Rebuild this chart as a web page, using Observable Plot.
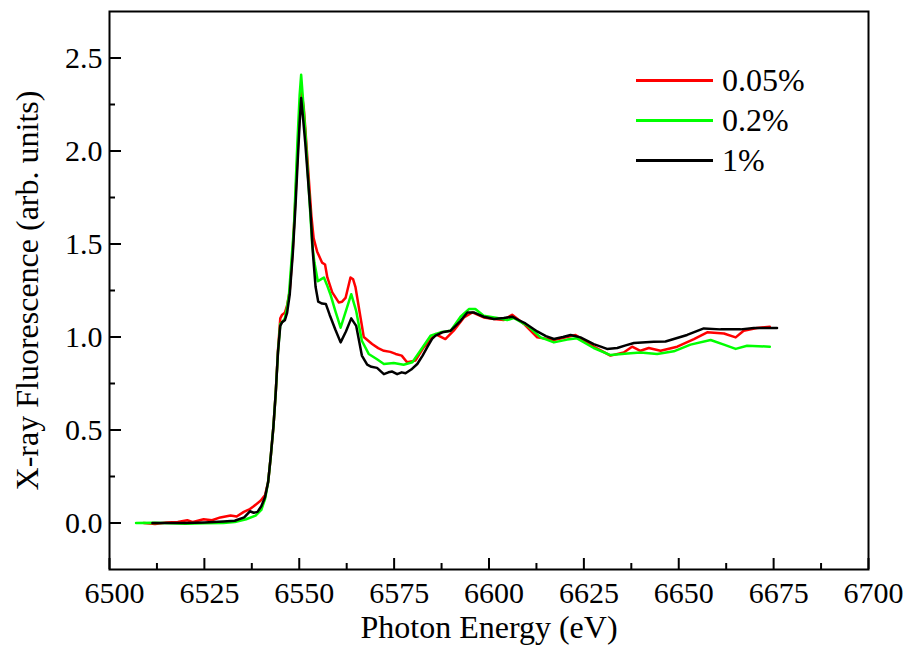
<!DOCTYPE html>
<html>
<head>
<meta charset="utf-8">
<script src="https://cdn.jsdelivr.net/npm/d3@7"></script>
<script src="https://cdn.jsdelivr.net/npm/@observablehq/plot@0.6"></script>
<style>
  html, body { margin: 0; padding: 0; background: #fff; }
</style>
</head>
<body style="margin:0;padding:0;background:#fff">
<div id="wrap" style="position:relative;width:911px;height:650px;overflow:hidden"></div>
<script>
// ---- data ----
const seriesNames = ["0.05%", "0.2%", "1%"];

const redE = [6509, 6512, 6515, 6518, 6520.5, 6522, 6524.8, 6527, 6529.2, 6531.9, 6533.5, 6535.4, 6537, 6538, 6539.8, 6541, 6541.8, 6542.5, 6543.2, 6543.8, 6544.4, 6545, 6545.5, 6546.2, 6546.8, 6547.5, 6548.3, 6549, 6549.6, 6550.1, 6550.5, 6551.2, 6551.6, 6552.5, 6553.2, 6553.8, 6554.7, 6556, 6556.8, 6557.4, 6558.7, 6560.4, 6561.3, 6562.2, 6563.5, 6564.2, 6564.8, 6567, 6569.2, 6570.8, 6572.3, 6574, 6575.4, 6577, 6578.4, 6580.6, 6582.8, 6585.9, 6588.5, 6590.7, 6593.4, 6595.6, 6598.6, 6601.3, 6603.9, 6606.1, 6609.2, 6612.7, 6617.1, 6622.8, 6627.6, 6632, 6635.5, 6637.7, 6639.9, 6642.1, 6645.2, 6649.6, 6654, 6657.5, 6661.9, 6665, 6667.1, 6670.6, 6674];
const redI = [0.0, -0.005, 0.003, 0.005, 0.015, 0.005, 0.02, 0.015, 0.03, 0.04, 0.035, 0.06, 0.075, 0.09, 0.12, 0.15, 0.22, 0.36, 0.52, 0.7, 0.93, 1.1, 1.12, 1.13, 1.17, 1.25, 1.47, 1.75, 2.0, 2.2, 2.33, 2.23, 2.12, 1.856, 1.65, 1.53, 1.46, 1.40, 1.39, 1.32, 1.24, 1.186, 1.19, 1.21, 1.32, 1.31, 1.27, 1.0, 0.962, 0.94, 0.926, 0.92, 0.909, 0.9, 0.864, 0.873, 0.944, 1.016, 0.989, 1.034, 1.105, 1.132, 1.105, 1.097, 1.091, 1.12, 1.07, 0.998, 0.984, 1.011, 0.948, 0.90, 0.917, 0.948, 0.926, 0.941, 0.926, 0.948, 0.989, 1.025, 1.019, 0.998, 1.034, 1.048, 1.055];

const greenE = [6507, 6512, 6516, 6520, 6525, 6530, 6533, 6536, 6538.5, 6540, 6541, 6541.8, 6542.5, 6543.2, 6543.8, 6544.4, 6545, 6545.5, 6546.2, 6546.8, 6547.3, 6548.6, 6549.5, 6550.1, 6550.5, 6550.9, 6551.6, 6552.5, 6553.4, 6554, 6554.9, 6555.7, 6556.5, 6557.3, 6558.2, 6559.5, 6560.9, 6562.3, 6563.7, 6565, 6566.5, 6568.3, 6570.5, 6572.3, 6574.9, 6577.5, 6579.8, 6581.9, 6584.6, 6587.2, 6589.9, 6592.5, 6594.7, 6596.4, 6598.6, 6602.2, 6604.8, 6606.5, 6610.1, 6613.6, 6617.1, 6620.6, 6623.2, 6627.6, 6632, 6637.3, 6639.9, 6644.3, 6648.7, 6653.1, 6658.4, 6661.9, 6665, 6668, 6674];
const greenI = [0.0, 0.002, -0.002, -0.004, -0.002, 0.0, 0.005, 0.02, 0.04, 0.07, 0.13, 0.22, 0.36, 0.52, 0.7, 0.92, 1.07, 1.08, 1.1, 1.16, 1.23, 1.59, 2.04, 2.3, 2.41, 2.3, 2.1, 1.8, 1.50, 1.40, 1.30, 1.31, 1.32, 1.28, 1.23, 1.14, 1.05, 1.14, 1.23, 1.14, 0.98, 0.909, 0.88, 0.855, 0.86, 0.851, 0.864, 0.926, 1.007, 1.025, 1.034, 1.109, 1.15, 1.15, 1.114, 1.102, 1.091, 1.102, 1.061, 0.998, 0.971, 0.986, 0.993, 0.941, 0.903, 0.912, 0.917, 0.909, 0.923, 0.959, 0.984, 0.959, 0.936, 0.953, 0.948];

const blackE = [6511.3, 6515, 6520, 6525, 6530, 6533, 6535.5, 6537, 6538, 6539, 6540, 6541, 6541.8, 6542.5, 6543.2, 6543.8, 6544.4, 6545, 6545.5, 6546.2, 6546.8, 6547.5, 6548.3, 6549, 6549.6, 6550.1, 6550.5, 6550.9, 6551.6, 6552.3, 6553, 6553.6, 6554.3, 6555, 6556, 6557, 6558, 6559.5, 6560.9, 6562.3, 6563.7, 6565, 6566.5, 6567.9, 6569, 6570.5, 6571.5, 6572.3, 6573.5, 6574.5, 6575.8, 6577, 6578, 6579.5, 6581.1, 6582.5, 6583.7, 6585, 6585.9, 6587.7, 6589.9, 6591.2, 6592.5, 6594.3, 6596, 6597.3, 6598.6, 6601.3, 6603.9, 6606.1, 6607.9, 6609.6, 6612.7, 6615, 6617.1, 6619.5, 6621.5, 6624.1, 6627.6, 6631.1, 6633.8, 6636, 6638.2, 6643.4, 6646.5, 6648.7, 6652.2, 6656.6, 6661, 6666.3, 6669.8, 6675.9];
const blackI = [0.0, 0.0, 0.0, 0.003, 0.008, 0.012, 0.03, 0.063, 0.055, 0.06, 0.09, 0.14, 0.22, 0.36, 0.52, 0.7, 0.92, 1.06, 1.08, 1.09, 1.13, 1.23, 1.45, 1.7, 1.95, 2.15, 2.285, 2.2, 2.04, 1.85, 1.66, 1.45, 1.27, 1.19, 1.18, 1.178, 1.12, 1.04, 0.971, 1.03, 1.10, 1.06, 0.90, 0.851, 0.84, 0.834, 0.815, 0.80, 0.81, 0.814, 0.80, 0.81, 0.805, 0.825, 0.855, 0.9, 0.944, 0.99, 1.007, 1.025, 1.034, 1.06, 1.087, 1.132, 1.132, 1.12, 1.109, 1.097, 1.102, 1.109, 1.09, 1.073, 1.03, 1.005, 0.989, 1.0, 1.011, 0.998, 0.962, 0.936, 0.941, 0.955, 0.968, 0.975, 0.976, 0.989, 1.011, 1.046, 1.041, 1.041, 1.048, 1.048];

const xMajorTicks = [6500, 6525, 6550, 6575, 6600, 6625, 6650, 6675, 6700];
const xMinorTicks = [6512.5, 6537.5, 6562.5, 6587.5, 6612.5, 6637.5, 6662.5, 6687.5];
const yMajorTicks = [0.0, 0.5, 1.0, 1.5, 2.0, 2.5];
const yMinorTicks = [0.25, 0.75, 1.25, 1.75, 2.25];
const xTitle = "Photon Energy (eV)";
const yTitle = "X-ray Fluorescence (arb. units)";

// ---- build table ----
const seriesColors = ["#ff0000", "#00ff00", "#000000"];
const energies = [redE, greenE, blackE];
const intensities = [redI, greenI, blackI];
const rows = [];
seriesNames.forEach((name, k) => {
  energies[k].forEach((e, i) => rows.push({series: name, E: e, I: intensities[k][i]}));
});

const W = 911, H = 650, mL = 109, mR = 43, mT = 11, mB = 81;
const innerW = W - mL - mR, innerH = H - mT - mB;
const font = "'Liberation Serif'";

const chart = Plot.plot({
  width: W, height: H,
  marginLeft: mL, marginRight: mR, marginTop: mT, marginBottom: mB,
  style: {fontFamily: font, fontSize: "30px", color: "#000", background: "#fff", overflow: "visible"},
  x: {domain: [6500, 6700]},
  y: {domain: [-0.25, 2.75]},
  color: {domain: seriesNames, range: seriesColors},
  marks: [
    Plot.line(rows, {x: "E", y: "I", z: "series", stroke: "series", strokeWidth: 2.5, strokeLinejoin: "round"}),
    Plot.tickX(xMajorTicks, {x: d => d, stroke: "#000", strokeWidth: 2, insetTop: innerH - 11}),
    Plot.tickX(xMinorTicks, {x: d => d, stroke: "#000", strokeWidth: 2, insetTop: innerH - 6}),
    Plot.tickY(yMajorTicks, {y: d => d, stroke: "#000", strokeWidth: 2, insetRight: innerW - 12}),
    Plot.tickY(yMinorTicks, {y: d => d, stroke: "#000", strokeWidth: 2, insetRight: innerW - 6}),
    Plot.frame({stroke: "#000", strokeWidth: 2}),
    Plot.axisX({ticks: xMajorTicks, tickSize: 0, tickPadding: 12, dx: 5, tickFormat: d3.format("d"), label: null, fontSize: 30}),
    Plot.axisY({ticks: yMajorTicks, tickSize: 0, tickPadding: 7, tickFormat: d3.format(".1f"), label: null, fontSize: 30}),
    Plot.text([xTitle], {text: d => d, frameAnchor: "bottom", dy: 58, lineAnchor: "middle", textAnchor: "middle", fontSize: 32, fill: "#000"}),
    Plot.text([yTitle], {text: d => d, frameAnchor: "left", dx: -82, rotate: -90, lineAnchor: "middle", textAnchor: "middle", fontSize: 32, fill: "#000"})
  ]
});

chart.querySelectorAll("text").forEach(el => { el.style.fontFamily = font; });

const wrap = document.getElementById("wrap");
wrap.appendChild(chart);

const legend = document.createElement("div");
legend.style.cssText = "position:absolute;left:636px;top:60px;color:#000";
seriesNames.forEach((name, k) => {
  const row = document.createElement("div");
  row.style.cssText = "display:flex;align-items:center;height:40px";
  const sw = document.createElement("span");
  sw.style.cssText = "display:inline-block;width:77px;height:3px;margin-right:9px;background:" + seriesColors[k];
  const label = document.createElement("span");
  label.style.cssText = "font-family:'Liberation Serif';font-size:32px;line-height:40px;color:#000";
  label.textContent = name;
  row.appendChild(sw);
  row.appendChild(label);
  legend.appendChild(row);
});
wrap.appendChild(legend);
</script>
</body>
</html>
